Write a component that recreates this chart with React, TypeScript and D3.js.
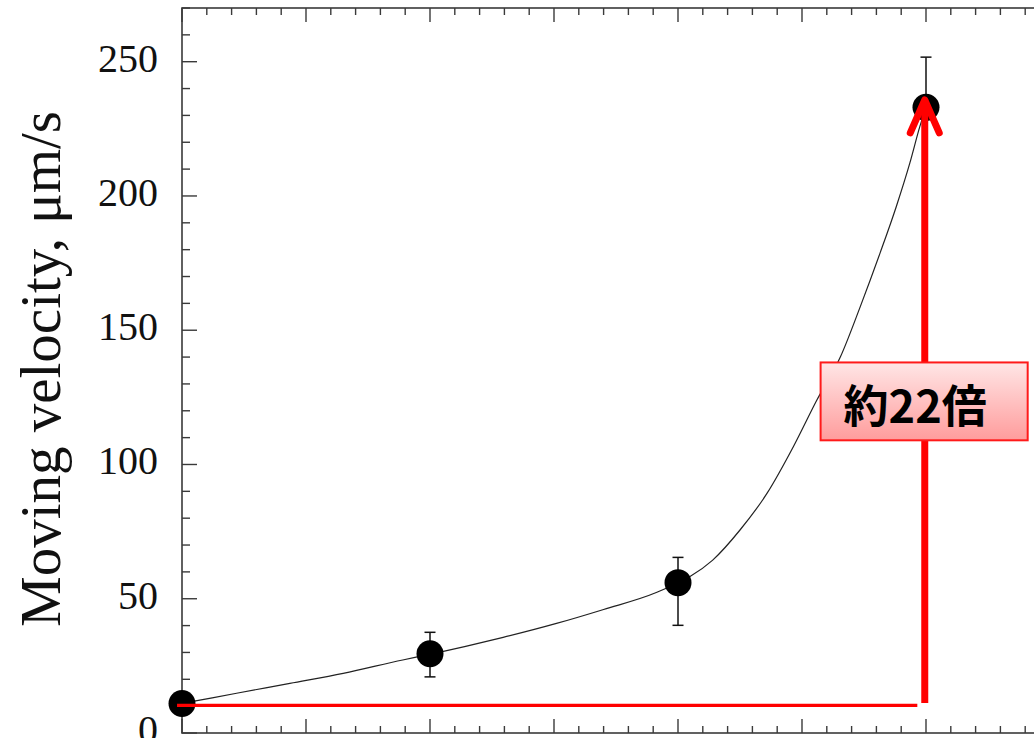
import React from "react";
import * as d3 from "d3";

// Measured points (x in major-tick units, velocity in μm/s)
const pointX = [0, 2, 4, 6];
const pointY = [11, 29.5, 56, 233];
const errUpper = [11, 37.5, 65.4, 251.7];
const errLower = [11, 20.9, 40.1, 233];

// Fitted curve
const curveX = [0.01, 0.44, 0.87, 1.3, 1.78, 2.0, 2.59, 3.02, 3.4, 3.83, 3.99, 4.1, 4.28, 4.5, 4.72, 4.93, 5.12, 5.31, 5.47, 5.63, 5.76, 5.87, 5.95, 6.0];
const curveY = [11.1, 14.8, 18.5, 22.2, 27.2, 29.3, 35.6, 40.8, 46.0, 52.4, 55.8, 58.4, 64.4, 75.6, 89.4, 106.6, 124.0, 140.1, 158.8, 178.8, 196.0, 212.3, 225.8, 233.1];

const yTickValues = [0, 50, 100, 150, 200, 250];
const yMinorValues = d3.range(0, 271, 10);
const xMinorValues = d3.range(0, 7.01, 0.2);

// Annotation (data units)
const baseLineY = 10.3;
const baseLineX0 = -0.04;
const baseLineX1 = 5.93;
const arrowX = 5.99;
const arrowFromY = 11.2;
const arrowToY = 235.8;
const labelText = "約22倍";
const labelX0 = 5.15;
const labelX1 = 6.82;
const labelYTop = 138;
const labelYBottom = 109;

const yTitle = "Moving velocity, μm/s";

export default function App() {
  const W = 1034;
  const H = 738;
  const x = d3.scaleLinear().domain([0, 7]).range([182, 1050]);
  const y = d3.scaleLinear().domain([0, 270]).range([733, 8]);
  const axisColor = "#3a3a3a";
  const line = d3
    .line<number>()
    .x((_, i) => x(curveX[i]))
    .y((d) => y(d))
    .curve(d3.curveMonotoneX);

  const left = x(0);
  const right = x(7);
  const top = y(270);
  const bottom = y(0);

  const isMajorX = (v: number) => Math.abs(v - Math.round(v)) < 1e-6;
  const isMajorY = (v: number) => v % 50 === 0;

  const ax = x(arrowX);
  const tipY = y(arrowToY);

  return (
    <svg
      width={W}
      height={H}
      style={{ position: "absolute", left: 0, top: 0, display: "block", background: "#fff" }}
    >
      <defs>
        <linearGradient id="lblGrad" x1="0" y1="0" x2="0" y2="1">
          <stop offset="0%" stopColor="#ffe6e6" />
          <stop offset="100%" stopColor="#ff9c9c" />
        </linearGradient>
      </defs>
      <rect x={0} y={0} width={W} height={H} fill="#fff" />

      {/* frame */}
      <rect x={left} y={top} width={right - left} height={bottom - top} fill="none" stroke={axisColor} strokeWidth={1.6} />

      {/* y ticks left & right */}
      {yMinorValues.map((v) => {
        const len = isMajorY(v) ? 15 : 8;
        return (
          <g key={"yt" + v}>
            <line x1={left} x2={left + len} y1={y(v)} y2={y(v)} stroke={axisColor} strokeWidth={1.4} />
            <line x1={right} x2={right - len} y1={y(v)} y2={y(v)} stroke={axisColor} strokeWidth={1.4} />
          </g>
        );
      })}
      {/* x ticks bottom & top */}
      {xMinorValues.map((v) => {
        const len = isMajorX(v) ? 14 : 7;
        return (
          <g key={"xt" + v.toFixed(2)}>
            <line x1={x(v)} x2={x(v)} y1={bottom} y2={bottom - len} stroke={axisColor} strokeWidth={1.4} />
            <line x1={x(v)} x2={x(v)} y1={top} y2={top + len} stroke={axisColor} strokeWidth={1.4} />
          </g>
        );
      })}

      {/* y tick labels */}
      {yTickValues.map((v) => (
        <text
          key={"yl" + v}
          x={158}
          y={y(v) + 10}
          textAnchor="end"
          fontFamily="'Liberation Serif', 'Times New Roman', serif"
          fontSize={40}
          fill="#111"
        >
          {v}
        </text>
      ))}

      {/* y title */}
      <text
        transform={`translate(60, 369) rotate(-90)`}
        textAnchor="middle"
        fontFamily="'Liberation Serif', 'Times New Roman', serif"
        fontSize={57}
        fill="#111"
      >
        {yTitle}
      </text>

      {/* fit curve */}
      <path d={line(curveY) || ""} fill="none" stroke="#222" strokeWidth={1.2} />

      {/* error bars */}
      {pointX.map((px, i) => (
        <g key={"eb" + i} stroke="#111" strokeWidth={1.5}>
          <line x1={x(px)} x2={x(px)} y1={y(errUpper[i])} y2={y(errLower[i])} />
          {errUpper[i] !== pointY[i] && (
            <line x1={x(px) - 5.5} x2={x(px) + 5.5} y1={y(errUpper[i])} y2={y(errUpper[i])} />
          )}
          {errLower[i] !== pointY[i] && (
            <line x1={x(px) - 5.5} x2={x(px) + 5.5} y1={y(errLower[i])} y2={y(errLower[i])} />
          )}
        </g>
      ))}

      {/* markers */}
      {pointX.map((px, i) => (
        <circle key={"m" + i} cx={x(px)} cy={y(pointY[i])} r={13.5} fill="#000" />
      ))}

      {/* red baseline */}
      <line x1={x(baseLineX0)} x2={x(baseLineX1)} y1={y(baseLineY)} y2={y(baseLineY)} stroke="#ff0000" strokeWidth={3.2} />

      {/* red arrow */}
      <line x1={ax} x2={ax} y1={y(arrowFromY)} y2={tipY + 2} stroke="#ff0000" strokeWidth={7} />
      <polyline
        points={`${ax - 14.5},${tipY + 33} ${ax},${tipY} ${ax + 14.5},${tipY + 33}`}
        fill="none"
        stroke="#ff0000"
        strokeWidth={7}
        strokeLinecap="round"
        strokeLinejoin="round"
      />

      {/* label box */}
      <rect
        x={x(labelX0)}
        y={y(labelYTop)}
        width={x(labelX1) - x(labelX0)}
        height={y(labelYBottom) - y(labelYTop)}
        fill="url(#lblGrad)"
        stroke="#ff1a1a"
        strokeWidth={2}
      />
      <text
        x={x(labelX0) + 23}
        y={(y(labelYTop) + y(labelYBottom)) / 2 + 2}
        dominantBaseline="central"
        fontFamily="'Noto Sans CJK JP', 'Noto Sans', sans-serif"
        fontWeight={700}
        fontSize={45}
        fill="#000"
      >
        {labelText}
      </text>
    </svg>
  );
}
